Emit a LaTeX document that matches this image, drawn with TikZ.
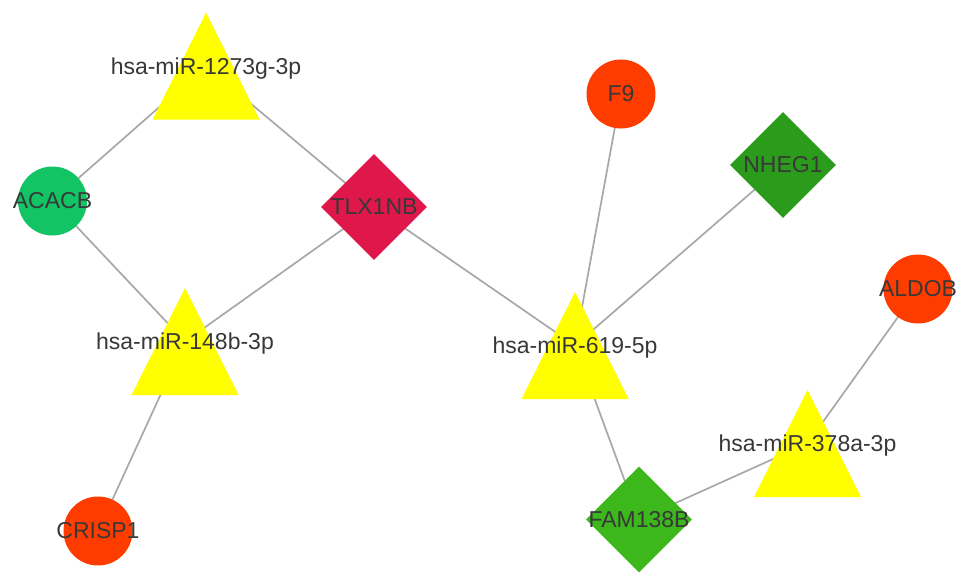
\documentclass[tikz,border=0pt]{standalone}
\usepackage{fontspec}
\setmainfont{Liberation Sans}
\usetikzlibrary{shapes.geometric,backgrounds}
\definecolor{triy}{HTML}{FFFF00}
\definecolor{acacbc}{HTML}{12C463}
\definecolor{tlxc}{HTML}{E0174A}
\definecolor{redc}{HTML}{FF3C00}
\definecolor{nhegc}{HTML}{2B9B1B}
\definecolor{famc}{HTML}{3CB81D}
\definecolor{edgec}{HTML}{A8A8A8}
\definecolor{txtc}{HTML}{383838}
\newcommand\zbox[1]{\makebox[0pt]{#1}}
\begin{document}
\begin{tikzpicture}[x=1pt,y=-1pt,
  lab/.style={font=\fontsize{23}{23}\selectfont, text=txtc},
  circ/.style={circle, fill=#1, minimum size=69pt, inner sep=0pt, lab},
  dia/.style={diamond, fill=#1, minimum width=106pt, minimum height=106pt, inner sep=0pt, lab},
  tri/.style={rectangle, minimum width=107pt, minimum height=107pt, inner sep=0pt, lab, text depth=0pt,
    path picture={\fill[triy] (path picture bounding box.north) -- (path picture bounding box.south west) -- (path picture bounding box.south east) -- cycle;}},
  edge/.style={draw=edgec, line width=1.7pt}]
\useasboundingbox (0,0) rectangle (969,586);
\node[tri] (m1273) at (206,66) {\zbox{hsa-miR-1273g-3p}};
\node[circ=acacbc] (acacb) at (52.5,201) {\zbox{ACACB}};
\node[dia=tlxc] (tlx) at (374,207) {\zbox{TLX1NB}};
\node[tri] (m148) at (185,341.5) {\zbox{hsa-miR-148b-3p}};
\node[circ=redc] (crisp) at (98,531) {\zbox{CRISP1}};
\node[circ=redc] (f9) at (621,94) {\zbox{F9}};
\node[dia=nhegc] (nheg) at (783,165) {\zbox{NHEG1}};
\node[tri] (m619) at (575,345.5) {\zbox{hsa-miR-619-5p}};
\node[circ=redc] (aldob) at (918,289) {\zbox{ALDOB}};
\node[tri] (m378) at (807.5,443.5) {\zbox{hsa-miR-378a-3p}};
\node[dia=famc] (fam) at (639,519.5) {\zbox{FAM138B}};
\begin{pgfonlayer}{background}
\fill[white] (0,0) rectangle (969,586);
\draw[edge] (m1273.center) -- (acacb.center);
\draw[edge] (m1273.center) -- (tlx.center);
\draw[edge] (acacb.center) -- (m148.center);
\draw[edge] (tlx.center) -- (m148.center);
\draw[edge] (tlx.center) -- (m619.center);
\draw[edge] (m148.center) -- (crisp.center);
\draw[edge] (f9.center) -- (m619.center);
\draw[edge] (nheg.center) -- (m619.center);
\draw[edge] (m619.center) -- (fam.center);
\draw[edge] (fam.center) -- (m378.center);
\draw[edge] (m378.center) -- (aldob.center);
\end{pgfonlayer}
\end{tikzpicture}
\end{document}
